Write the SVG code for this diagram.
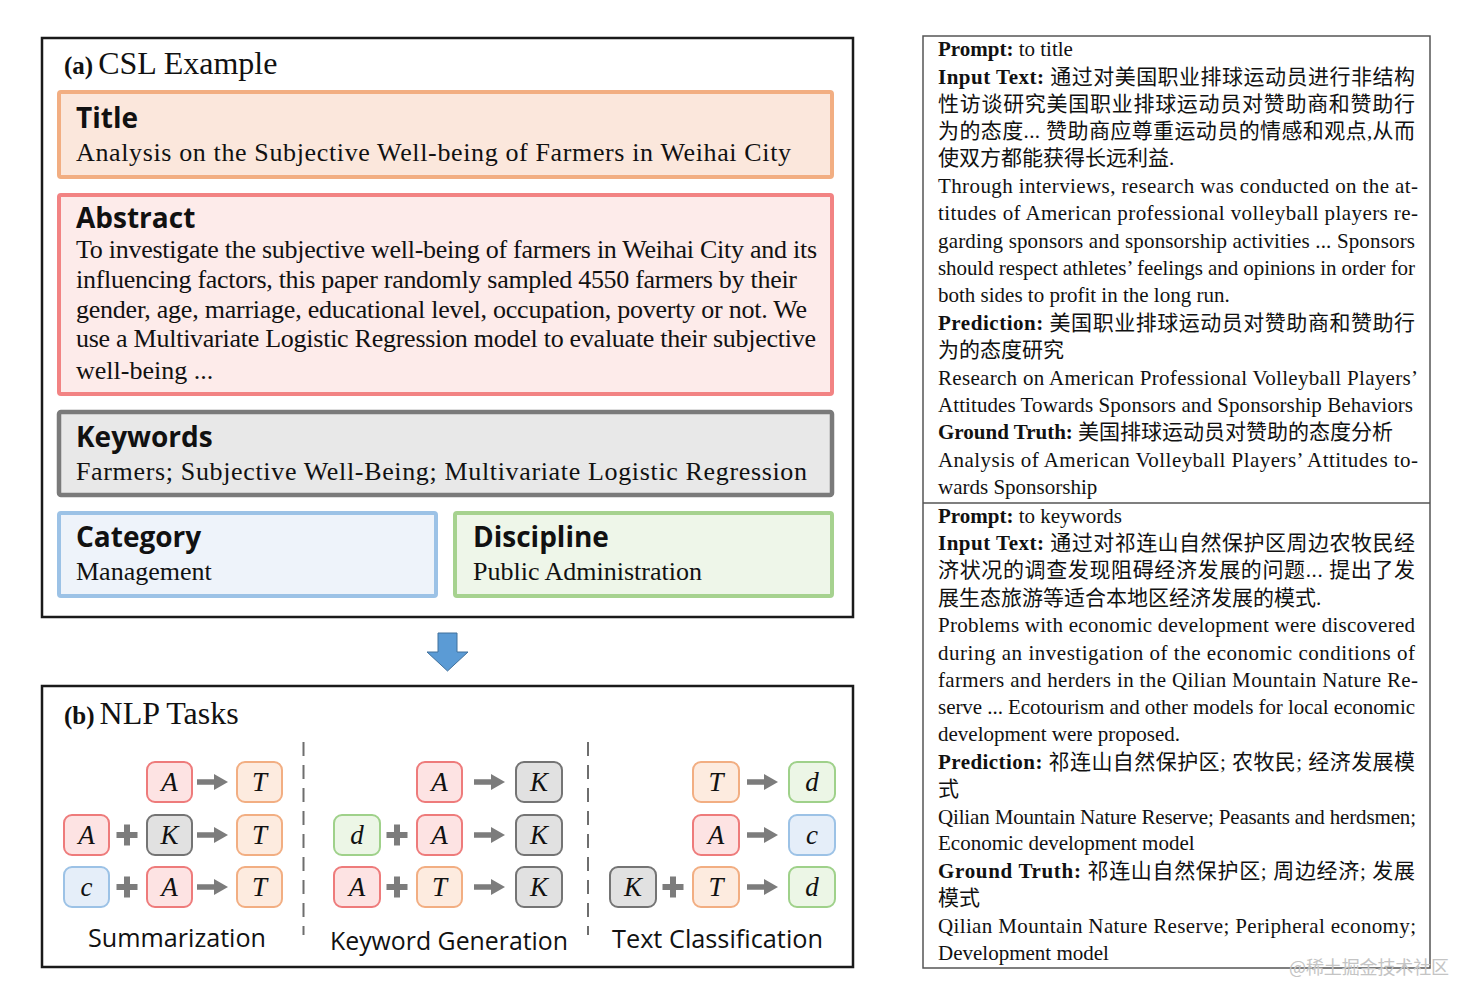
<svg xmlns="http://www.w3.org/2000/svg" width="1476" height="1004" viewBox="0 0 1476 1004">
<style>
.panel{fill:#fff;stroke:#1a1a1a;stroke-width:2.5}
.ser{font-family:"Liberation Serif","Noto Sans CJK SC",serif;fill:#111}
.hd{font-family:"Open Sans","Noto Sans",sans-serif;font-weight:700;font-size:28px;fill:#111}
.body{font-size:26px}
.rt{font-family:"Liberation Serif","Noto Sans CJK SC",serif;font-size:21px;fill:#111}
.b{font-weight:700}
.sb rect{rx:8;ry:8;stroke-width:2}
.sb text{font-family:"Liberation Serif",serif;font-style:italic;font-size:27px;fill:#111;text-anchor:middle}
.sb text.lbl{font-style:normal;font-family:"Open Sans","Noto Sans",sans-serif;font-size:26px}
.red{fill:#fde3e3;stroke:#ee7b7b}
.org{fill:#fdebdf;stroke:#f2ae82}
.gry{fill:#e1e1e1;stroke:#747474}
.grn{fill:#ecf6e6;stroke:#9fd18a}
.blu{fill:#e5eef9;stroke:#9cc2e6}
.dash{stroke:#6e6e6e;stroke-width:2;stroke-dasharray:14 9}
</style>
<defs>
<path id="arr" d="M0,-2.8 H17 V-8 L31,0 L17,8 V2.8 H0Z" fill="#7c7c7c"/>
<path id="plus" d="M-10.5,0 H10.5 M0,-10.5 V10.5" stroke="#7c7c7c" stroke-width="6" fill="none"/>
</defs>
<rect width="1476" height="1004" fill="#fff"/>

<g id="panel-a">
<rect class="panel" x="42" y="38" width="811" height="579"/>
<text class="ser" x="64" y="74"><tspan class="b" font-size="25">(a)</tspan><tspan font-size="32" dx="5">CSL Example</tspan></text>
</g>

<g id="title-box">
<rect x="59" y="92" width="773" height="85" fill="#fbe7dc" stroke="#f2ae82" stroke-width="4" rx="2"/>
<text class="hd" x="76" y="128">Title</text>
<text class="ser body" x="76" y="161" textLength="715" lengthAdjust="spacing">Analysis on the Subjective Well-being  of Farmers in Weihai  City</text>
</g>

<g id="abstract-box">
<rect x="59" y="195" width="773" height="199" fill="#fdebea" stroke="#f28383" stroke-width="4" rx="2"/>
<text class="hd" x="76" y="228">Abstract</text>
<text class="ser body" x="76" y="258" textLength="741" lengthAdjust="spacing">To investigate the subjective well-being of farmers in Weihai City and its</text>
<text class="ser body" x="76" y="288" textLength="721" lengthAdjust="spacing">influencing factors, this paper randomly sampled 4550 farmers by their</text>
<text class="ser body" x="76" y="318" textLength="731" lengthAdjust="spacing">gender, age, marriage, educational level, occupation, poverty or not. We</text>
<text class="ser body" x="76" y="347" textLength="740" lengthAdjust="spacing">use a Multivariate Logistic Regression model to evaluate their subjective</text>
<text class="ser body" x="76" y="379">well-being ...</text>
</g>

<g id="keywords-box">
<rect x="59" y="412" width="773" height="83" fill="#e8e8e8" stroke="#7a7a7a" stroke-width="4.5" rx="2"/>
<text class="hd" x="76" y="447">Keywords</text>
<text class="ser body" x="76" y="480" textLength="731" lengthAdjust="spacing">Farmers; Subjective Well-Being;  Multivariate  Logistic Regression</text>
</g>

<g id="category-box">
<rect x="59" y="513" width="377" height="83" fill="#eef3fa" stroke="#9cc2e6" stroke-width="4" rx="2"/>
<text class="hd" x="76" y="547">Category</text>
<text class="ser body" x="76" y="580">Management</text>
</g>

<g id="discipline-box">
<rect x="455" y="513" width="377" height="83" fill="#eef6e9" stroke="#a6d28f" stroke-width="4" rx="2"/>
<text class="hd" x="473" y="547">Discipline</text>
<text class="ser body" x="473" y="580">Public Administration</text>
</g>

<g id="connectors">
<path d="M438,633 H457 V652 H468 L447.5,671 L427,652 H438Z" fill="#5b9bd5" stroke="#41719c" stroke-width="1"/>
</g>

<g id="panel-b">
<rect class="panel" x="42" y="686" width="811" height="281"/>
<text class="ser" x="64" y="724"><tspan class="b" font-size="25">(b)</tspan><tspan font-size="32" dx="5">NLP Tasks</tspan></text>
<line class="dash" x1="303.5" y1="742" x2="303.5" y2="935"/>
<line class="dash" x1="588" y1="742" x2="588" y2="935"/>
</g>

<g id="task-summarization" class="sb">
<rect class="red" x="147" y="762" width="45" height="40"/><text x="169.5" y="791">A</text>
<use href="#arr" x="197" y="782"/>
<rect class="org" x="237" y="762" width="45" height="40"/><text x="259.5" y="791">T</text>
<rect class="red" x="64" y="815" width="45" height="40"/><text x="86.5" y="844">A</text>
<use href="#plus" x="127" y="835"/>
<rect class="gry" x="147" y="815" width="45" height="40"/><text x="169.5" y="844">K</text>
<use href="#arr" x="197" y="835"/>
<rect class="org" x="237" y="815" width="45" height="40"/><text x="259.5" y="844">T</text>
<rect class="blu" x="64" y="867" width="45" height="40"/><text x="86.5" y="896">c</text>
<use href="#plus" x="127" y="887"/>
<rect class="red" x="147" y="867" width="45" height="40"/><text x="169.5" y="896">A</text>
<use href="#arr" x="197" y="887"/>
<rect class="org" x="237" y="867" width="45" height="40"/><text x="259.5" y="896">T</text>
<text class="lbl" x="177" y="947" textLength="178" lengthAdjust="spacingAndGlyphs">Summarization</text>
</g>

<g id="task-keyword-generation" class="sb">
<rect class="red" x="417" y="762" width="45" height="40"/><text x="439.5" y="791">A</text>
<use href="#arr" x="474" y="782"/>
<rect class="gry" x="516" y="762" width="46" height="40"/><text x="539" y="791">K</text>
<rect class="grn" x="334" y="815" width="46" height="40"/><text x="357" y="844">d</text>
<use href="#plus" x="397" y="835"/>
<rect class="red" x="417" y="815" width="45" height="40"/><text x="439.5" y="844">A</text>
<use href="#arr" x="474" y="835"/>
<rect class="gry" x="516" y="815" width="46" height="40"/><text x="539" y="844">K</text>
<rect class="red" x="334" y="867" width="46" height="40"/><text x="357" y="896">A</text>
<use href="#plus" x="397" y="887"/>
<rect class="org" x="417" y="867" width="45" height="40"/><text x="439.5" y="896">T</text>
<use href="#arr" x="474" y="887"/>
<rect class="gry" x="516" y="867" width="46" height="40"/><text x="539" y="896">K</text>
<text class="lbl" x="449" y="950" textLength="238" lengthAdjust="spacingAndGlyphs">Keyword Generation</text>
</g>

<g id="task-text-classification" class="sb">
<rect class="org" x="693" y="762" width="46" height="40"/><text x="716" y="791">T</text>
<use href="#arr" x="747" y="782"/>
<rect class="grn" x="789" y="762" width="46" height="40"/><text x="812" y="791">d</text>
<rect class="red" x="693" y="815" width="46" height="40"/><text x="716" y="844">A</text>
<use href="#arr" x="747" y="835"/>
<rect class="blu" x="789" y="815" width="46" height="40"/><text x="812" y="844">c</text>
<rect class="gry" x="610" y="867" width="46" height="40"/><text x="633" y="896">K</text>
<use href="#plus" x="673" y="887"/>
<rect class="org" x="693" y="867" width="46" height="40"/><text x="716" y="896">T</text>
<use href="#arr" x="747" y="887"/>
<rect class="grn" x="789" y="867" width="46" height="40"/><text x="812" y="896">d</text>
<text class="lbl" x="717.5" y="948" textLength="211" lengthAdjust="spacingAndGlyphs">Text Classification</text>
</g>

<g id="examples-panel">
<rect x="923" y="36" width="507" height="932" fill="#fff" stroke="#555" stroke-width="1.5"/>
<line x1="923" y1="503" x2="1430" y2="503" stroke="#555" stroke-width="1.5"/>
</g>

<g id="example-title">
<text class="rt" x="938" y="56"><tspan class="b">Prompt:</tspan> to title</text>
<text class="rt" x="938" y="84" textLength="477" lengthAdjust="spacing"><tspan class="b">Input Text:</tspan> 通过对美国职业排球运动员进行非结构</text>
<text class="rt" x="938" y="111" textLength="477" lengthAdjust="spacing">性访谈研究美国职业排球运动员对赞助商和赞助行</text>
<text class="rt" x="938" y="138" textLength="477" lengthAdjust="spacing">为的态度... 赞助商应尊重运动员的情感和观点,从而</text>
<text class="rt" x="938" y="165">使双方都能获得长远利益.</text>
<text class="rt" x="938" y="193" textLength="480" lengthAdjust="spacing">Through interviews, research was conducted on the at-</text>
<text class="rt" x="938" y="220" textLength="480" lengthAdjust="spacing">titudes of American professional volleyball players re-</text>
<text class="rt" x="938" y="248" textLength="477" lengthAdjust="spacing">garding sponsors and sponsorship activities ... Sponsors</text>
<text class="rt" x="938" y="275" textLength="477" lengthAdjust="spacing">should respect athletes’ feelings and opinions in order for</text>
<text class="rt" x="938" y="302">both sides to profit in the long run.</text>
<text class="rt" x="938" y="330" textLength="477" lengthAdjust="spacing"><tspan class="b">Prediction:</tspan> 美国职业排球运动员对赞助商和赞助行</text>
<text class="rt" x="938" y="357">为的态度研究</text>
<text class="rt" x="938" y="385" textLength="480" lengthAdjust="spacing">Research on American Professional Volleyball Players’</text>
<text class="rt" x="938" y="412" textLength="475" lengthAdjust="spacing">Attitudes Towards Sponsors and Sponsorship Behaviors</text>
<text class="rt" x="938" y="439"><tspan class="b">Ground Truth:</tspan> 美国排球运动员对赞助的态度分析</text>
<text class="rt" x="938" y="467" textLength="480" lengthAdjust="spacing">Analysis of American Volleyball Players’ Attitudes to-</text>
<text class="rt" x="938" y="494">wards Sponsorship</text>
</g>

<g id="example-keywords">
<text class="rt" x="938" y="523"><tspan class="b">Prompt:</tspan> to keywords</text>
<text class="rt" x="938" y="550" textLength="477" lengthAdjust="spacing"><tspan class="b">Input Text:</tspan> 通过对祁连山自然保护区周边农牧民经</text>
<text class="rt" x="938" y="577" textLength="477" lengthAdjust="spacing">济状况的调查发现阻碍经济发展的问题... 提出了发</text>
<text class="rt" x="938" y="605">展生态旅游等适合本地区经济发展的模式.</text>
<text class="rt" x="938" y="632" textLength="477" lengthAdjust="spacing">Problems with economic development were discovered</text>
<text class="rt" x="938" y="660" textLength="477" lengthAdjust="spacing">during an investigation of the economic conditions of</text>
<text class="rt" x="938" y="687" textLength="480" lengthAdjust="spacing">farmers and herders in the Qilian Mountain Nature Re-</text>
<text class="rt" x="938" y="714" textLength="477" lengthAdjust="spacing">serve ... Ecotourism and other models for local economic</text>
<text class="rt" x="938" y="741">development were proposed.</text>
<text class="rt" x="938" y="769" textLength="477" lengthAdjust="spacing"><tspan class="b">Prediction:</tspan> 祁连山自然保护区; 农牧民; 经济发展模</text>
<text class="rt" x="938" y="796">式</text>
<text class="rt" x="938" y="824" textLength="478" lengthAdjust="spacing">Qilian Mountain Nature Reserve; Peasants and herdsmen;</text>
<text class="rt" x="938" y="850">Economic development model</text>
<text class="rt" x="938" y="878" textLength="477" lengthAdjust="spacing"><tspan class="b">Ground Truth:</tspan> 祁连山自然保护区; 周边经济; 发展</text>
<text class="rt" x="938" y="905">模式</text>
<text class="rt" x="938" y="933" textLength="478" lengthAdjust="spacing">Qilian Mountain Nature Reserve; Peripheral economy;</text>
<text class="rt" x="938" y="960">Development model</text>
</g>

<text x="1289" y="974" font-family="'Noto Sans CJK SC','Noto Sans',sans-serif" font-size="18" fill="#c4c4c4" textLength="160">@稀土掘金技术社区</text>
</svg>
